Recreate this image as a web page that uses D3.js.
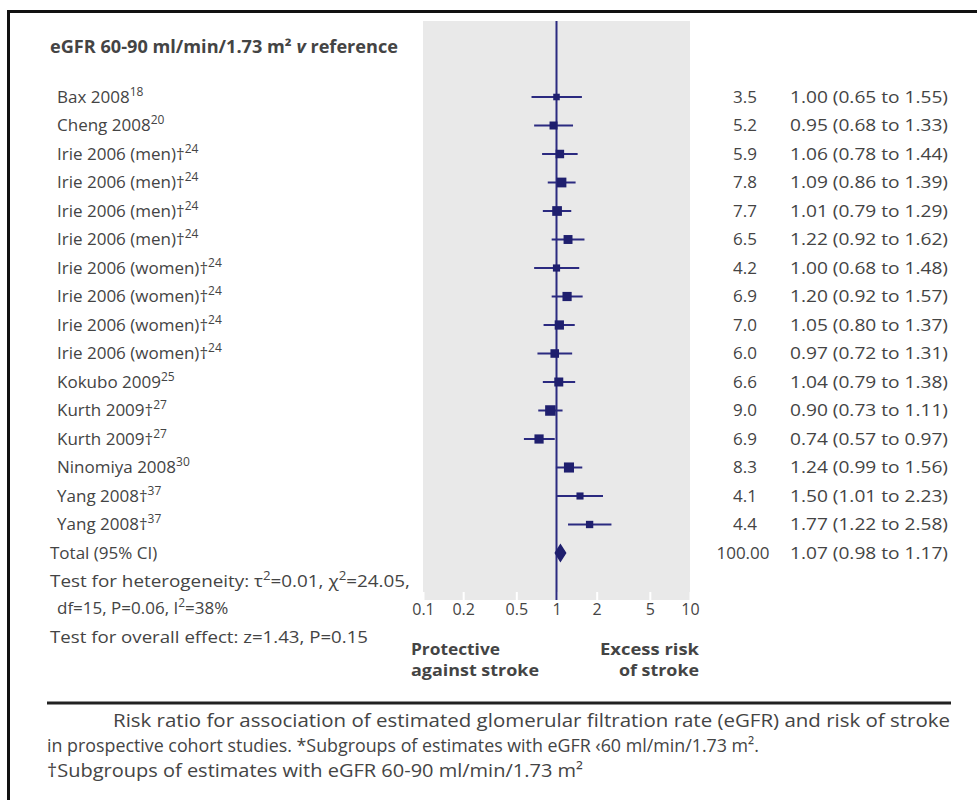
<!DOCTYPE html>
<html lang="en">
<head>
  <meta charset="UTF-8">
  <title>Forest plot - eGFR and stroke</title>
  <script src="https://d3js.org/d3.v7.min.js"></script>
  <style>
    body { margin: 0; background: #fff; }
    text { font-family: "Open Sans", "Noto Sans", sans-serif; fill: #444; }
  </style>
</head>
<body>
  <div id="chart"></div>
  <script>
    // study rows
    const studies = ["Bax 2008", "Cheng 2008", "Irie 2006 (men)†", "Irie 2006 (men)†",
      "Irie 2006 (men)†", "Irie 2006 (men)†", "Irie 2006 (women)†", "Irie 2006 (women)†",
      "Irie 2006 (women)†", "Irie 2006 (women)†", "Kokubo 2009", "Kurth 2009†",
      "Kurth 2009†", "Ninomiya 2008", "Yang 2008†", "Yang 2008†"];
    const refs = ["18", "20", "24", "24", "24", "24", "24", "24", "24", "24", "25", "27", "27", "30", "37", "37"];
    const weights = [3.5, 5.2, 5.9, 7.8, 7.7, 6.5, 4.2, 6.9, 7.0, 6.0, 6.6, 9.0, 6.9, 8.3, 4.1, 4.4];
    const rr = [1.00, 0.95, 1.06, 1.09, 1.01, 1.22, 1.00, 1.20, 1.05, 0.97, 1.04, 0.90, 0.74, 1.24, 1.50, 1.77];
    const lo = [0.65, 0.68, 0.78, 0.86, 0.79, 0.92, 0.68, 0.92, 0.80, 0.72, 0.79, 0.73, 0.57, 0.99, 1.01, 1.22];
    const hi = [1.55, 1.33, 1.44, 1.39, 1.29, 1.62, 1.48, 1.57, 1.37, 1.31, 1.38, 1.11, 0.97, 1.56, 2.23, 2.58];

    // pooled estimate
    const total = { label: "Total (95% CI)", weight: "100.00", rr: 1.07, lo: 0.98, hi: 1.17 };

    const tickValues = [0.1, 0.2, 0.5, 1, 2, 5, 10];

    const W = 977, H = 800;
    const navy = "#2b2a80";
    const fs = 17;
    const f2 = d3.format(".2f");

    const svg = d3.select("#chart").append("svg")
      .attr("width", W).attr("height", H);

    // outer frame (open at right and bottom)
    svg.append("path")
      .attr("d", "M8.5,800 V11.5 H977")
      .attr("fill", "none").attr("stroke", "#111").attr("stroke-width", 3);

    const x = d3.scaleLog().domain([0.1, 10]).range([423, 690]);
    const y = d3.scalePoint().domain(d3.range(studies.length + 1)).range([97, 553]);
    const panelTop = 21, panelBottom = 600;

    // grey panel
    svg.append("rect")
      .attr("x", x(0.1)).attr("y", panelTop)
      .attr("width", x(10) - x(0.1)).attr("height", panelBottom - panelTop)
      .attr("fill", "#e9e9e9");

    // axis: white ticks inside panel, labels below
    const axis = svg.append("g")
      .attr("transform", `translate(0,${panelBottom})`)
      .call(d3.axisBottom(x).tickValues(tickValues)
        .tickFormat(d3.format("~g")).tickSizeInner(-8).tickSizeOuter(0).tickPadding(4));
    axis.select(".domain").remove();
    axis.selectAll(".tick line").attr("stroke", "#fff").attr("stroke-width", 2);
    axis.selectAll(".tick text").attr("font-size", 16).attr("fill", "#444")
      .attr("font-family", "Open Sans, Noto Sans, sans-serif");

    // line of no effect
    svg.append("line")
      .attr("x1", x(1)).attr("x2", x(1)).attr("y1", panelTop).attr("y2", panelBottom)
      .attr("stroke", navy).attr("stroke-width", 2);

    // header
    const head = svg.append("text").attr("x", 50).attr("y", 47).attr("dy", "0.35em")
      .attr("font-size", fs).attr("font-weight", "bold").attr("textLength", 348)
      .attr("lengthAdjust", "spacingAndGlyphs");
    head.append("tspan").text("eGFR 60-90 ml/min/1.73 m² ");
    head.append("tspan").attr("font-style", "italic").text("v");
    head.append("tspan").text(" reference");

    // study labels with superscript refs
    const lab = svg.selectAll("text.study").data(studies).enter().append("text")
      .attr("class", "study").attr("x", 57).attr("y", (d, i) => y(i)).attr("dy", "0.35em")
      .attr("font-size", fs);
    lab.append("tspan").text(d => d);
    lab.append("tspan").attr("dy", -7).attr("font-size", 12).text((d, i) => refs[i]);

    // CI lines and squares
    const rows = svg.selectAll("g.row").data(studies).enter().append("g").attr("class", "row");
    rows.append("line")
      .attr("x1", (d, i) => x(lo[i])).attr("x2", (d, i) => x(hi[i]))
      .attr("y1", (d, i) => y(i)).attr("y2", (d, i) => y(i))
      .attr("stroke", navy).attr("stroke-width", 2);
    const side = w => 3.5 * Math.sqrt(w);
    rows.append("rect")
      .attr("x", (d, i) => x(rr[i]) - side(weights[i]) / 2)
      .attr("y", (d, i) => y(i) - side(weights[i]) / 2)
      .attr("width", (d, i) => side(weights[i]))
      .attr("height", (d, i) => side(weights[i]))
      .attr("fill", "#1f1f6e");

    // right columns
    svg.selectAll("text.wt").data(weights).enter().append("text")
      .attr("class", "wt").attr("x", 745).attr("y", (d, i) => y(i)).attr("dy", "0.35em")
      .attr("text-anchor", "middle").attr("font-size", fs).text(d => d.toFixed(1));
    svg.selectAll("text.ci").data(rr).enter().append("text")
      .attr("class", "ci").attr("x", 790).attr("y", (d, i) => y(i)).attr("dy", "0.35em")
      .attr("font-size", fs).attr("textLength", 158).attr("lengthAdjust", "spacingAndGlyphs")
      .text((d, i) => `${f2(d)} (${f2(lo[i])} to ${f2(hi[i])})`);

    // total row
    const ty = y(studies.length);
    svg.append("text").attr("x", 50).attr("y", ty).attr("dy", "0.35em").attr("font-size", fs).text(total.label);
    svg.append("path")
      .attr("d", `M${x(total.lo)},${ty} L${x(total.rr)},${ty - 8} L${x(total.hi)},${ty} L${x(total.rr)},${ty + 8} Z`)
      .attr("fill", "#1f1f6e").attr("stroke", "#1f1f6e").attr("stroke-width", 1.5);
    svg.append("text").attr("x", 743).attr("y", ty).attr("dy", "0.35em").attr("text-anchor", "middle")
      .attr("font-size", fs).text(total.weight);
    svg.append("text").attr("x", 790).attr("y", ty).attr("dy", "0.35em").attr("font-size", fs)
      .attr("textLength", 158).attr("lengthAdjust", "spacingAndGlyphs")
      .text(`${f2(total.rr)} (${f2(total.lo)} to ${f2(total.hi)})`);

    // tests
    const t1 = svg.append("text").attr("x", 50).attr("y", 581).attr("dy", "0.35em").attr("font-size", fs)
      .attr("textLength", 360).attr("lengthAdjust", "spacingAndGlyphs");
    t1.append("tspan").text("Test for heterogeneity: τ");
    t1.append("tspan").attr("dy", -7).attr("font-size", 12).text("2");
    t1.append("tspan").attr("dy", 7).text("=0.01, χ");
    t1.append("tspan").attr("dy", -7).attr("font-size", 12).text("2");
    t1.append("tspan").attr("dy", 7).text("=24.05,");
    const t2 = svg.append("text").attr("x", 57).attr("y", 608).attr("dy", "0.35em").attr("font-size", fs);
    t2.append("tspan").text("df=15, P=0.06, I");
    t2.append("tspan").attr("dy", -7).attr("font-size", 12).text("2");
    t2.append("tspan").attr("dy", 7).text("=38%");
    svg.append("text").attr("x", 50).attr("y", 637).attr("dy", "0.35em").attr("font-size", fs)
      .attr("textLength", 318).attr("lengthAdjust", "spacingAndGlyphs")
      .text("Test for overall effect: z=1.43, P=0.15");

    // direction labels
    const dirL = ["Protective", "against stroke"], dirR = ["Excess risk", "of stroke"];
    svg.selectAll("text.dl").data(dirL).enter().append("text").attr("class", "dl")
      .attr("x", 411).attr("y", (d, i) => 650 + i * 21).attr("dy", "0.35em")
      .attr("font-size", 15.5).attr("font-weight", "bold")
      .attr("textLength", (d, i) => [89, 128][i]).attr("lengthAdjust", "spacingAndGlyphs")
      .text(d => d);
    svg.selectAll("text.dr").data(dirR).enter().append("text").attr("class", "dr")
      .attr("x", (d, i) => 699 - [99, 80][i]).attr("y", (d, i) => 650 + i * 21).attr("dy", "0.35em")
      .attr("font-size", 15.5).attr("font-weight", "bold")
      .attr("textLength", (d, i) => [99, 80][i]).attr("lengthAdjust", "spacingAndGlyphs")
      .text(d => d);

    // caption
    svg.append("line").attr("x1", 47).attr("x2", 951).attr("y1", 703).attr("y2", 703)
      .attr("stroke", "#222").attr("stroke-width", 3);
    const capLines = [
      { x: 113, y: 720, w: 837, t: "Risk ratio for association of estimated glomerular filtration rate (eGFR) and risk of stroke" },
      { x: 47, y: 745, w: 712, t: "in prospective cohort studies. *Subgroups of estimates with eGFR ‹60 ml/min/1.73 m²." },
      { x: 47, y: 770, w: 536, t: "†Subgroups of estimates with eGFR 60-90 ml/min/1.73 m²" }
    ];
    svg.selectAll("text.cap").data(capLines).enter().append("text").attr("class", "cap")
      .attr("x", d => d.x).attr("y", d => d.y).attr("dy", "0.35em")
      .attr("font-size", 19).attr("fill", "#2a2a2a")
      .attr("font-family", "'Liberation Sans Narrow', 'DejaVu Sans Condensed', sans-serif")
      .attr("textLength", d => d.w).attr("lengthAdjust", "spacingAndGlyphs")
      .text(d => d.t);
  </script>
</body>
</html>
